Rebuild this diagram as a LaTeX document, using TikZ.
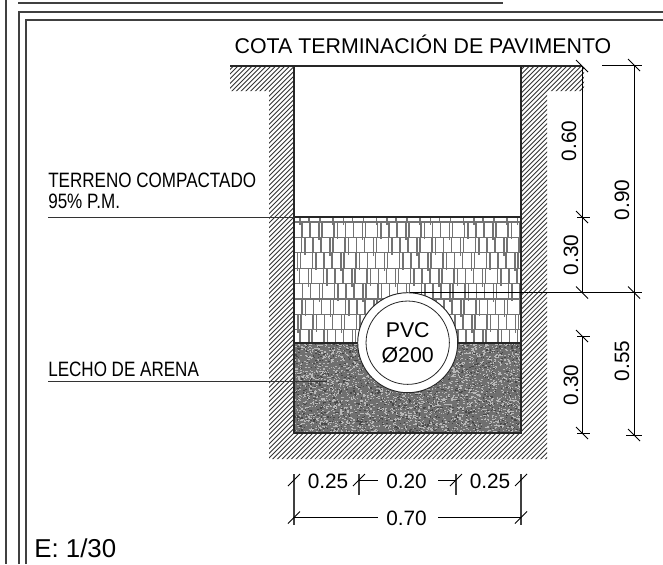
\documentclass[tikz,border=0pt]{standalone}
\usepackage{fontspec}
\setmainfont{Liberation Sans}
\usetikzlibrary{positioning,calc}
\tikzset{
  frameline/.style={line width=0.8pt,black!75},
  hatchline/.style={line width=0.65pt,black!80},
  paverline/.style={line width=0.85pt,black!55},
  wallline/.style={line width=0.9pt,black!85},
  dimline/.style={line width=0.6pt,black},
  bigtext/.style={inner sep=0pt,font=\fontsize{16}{18}\selectfont},
  dimtext/.style={inner sep=0pt,font=\fontsize{15.6}{18}\selectfont},
  notetext/.style={inner sep=0pt,anchor=base west,font=\fontsize{15.6}{18}\selectfont},
}
\newcommand{\backtick}[1]{\draw[dimline] ([shift={(-6,-6)}]#1) -- ([shift={(6,6)}]#1);}
\newcommand{\slashtick}[1]{\draw[dimline] ([shift={(-6,6)}]#1) -- ([shift={(6,-6)}]#1);}
\begin{document}
\begin{tikzpicture}[x=0.75pt,y=-0.75pt]
  \useasboundingbox (0,0) rectangle (663,564);
  % sheet frame
  \draw[frameline] (6,0) -- (6,564);
  \draw[frameline] (19,564) -- (19,12) -- (663,12);
  \draw[frameline] (26,564) -- (26,20) -- (663,20);
  \draw[frameline] (18,3) -- (503,3);
  % ground hatch
  \begin{scope}
    \clip (230,66) -- (294,66) -- (294,433) -- (521,433) -- (521,66) -- (584,66)
      -- (584,91) -- (547,91) -- (547,459) -- (269,459) -- (269,91) -- (230,91) -- cycle;
    \foreach \k in {290,294.7,...,1050}{
      \draw[hatchline] (\k,0) -- (0,\k);
    }
  \end{scope}
  % compacted fill
  \begin{scope}
    \clip (294,217) rectangle (521,343);
    \foreach \r in {0,...,7}{
      \draw[paverline] (294,222+15.4*\r) -- (521,222+15.4*\r);
      \foreach \p in {-3,...,6}{
        \foreach \o/\e in {0/2,8/0,16/0,25/3,28/0,40/0}{
          \draw[paverline] (294+\p*43.5+\o+11*\r,222+15.4*\r) -- ++(0,15.4+\e);
        }
      }
    }
    \foreach \p in {0,...,5}{
      \foreach \o/\e in {0/3,9/0,20/0,33/3}{
        \draw[paverline] (300+\p*43.5+\o,217) -- ++(0,5+\e);
      }
    }
  \end{scope}
  % sand bed
  \fill[black!56] (294,343) rectangle (521,433);
  \pgfmathsetseed{4242}
  \foreach \i in {1,...,3000}{
    \pgfmathsetmacro{\sx}{294+226*rnd}
    \pgfmathsetmacro{\sy}{343+89*rnd}
    \fill[black!28] (\sx,\sy) rectangle ++(1.5,1.1);
  }
  \foreach \i in {1,...,1200}{
    \pgfmathsetmacro{\sx}{294+226*rnd}
    \pgfmathsetmacro{\sy}{343+89*rnd}
    \fill[black!72] (\sx,\sy) rectangle ++(1.4,1.1);
  }
  % trench outline
  \draw[wallline] (230,66) -- (582,66);
  \draw[wallline] (294,66) -- (294,433) -- (521,433) -- (521,66);
  \draw[wallline] (294,217) -- (521,217);
  \draw[wallline] (294,343) -- (521,343);
  % pipe
  \node[circle,draw=black!85,fill=white,line width=0.7pt,minimum size=75pt,inner sep=0pt] (pipeout) at (407.7,342.7) {};
  \node[circle,draw=black!85,fill=white,line width=0.6pt,minimum size=62.5pt,inner sep=0pt] (pipein) at (pipeout) {};
  \node[bigtext] (pvc) at (407.7,330) {PVC};
  \node[bigtext] (diam) at (407.7,355.5) {Ø200};
  % labels
  \node[bigtext] (cota) at (423,44.5) {COTA TERMINACIÓN DE PAVIMENTO};
  \node[notetext] (terreno) at (48,187) {\scalebox{.82}[1]{TERRENO COMPACTADO}};
  \node[notetext] (proctor) at (48,208.5) {\scalebox{.82}[1]{95\% P.M.}};
  \node[notetext] (lecho) at (48,376) {\scalebox{.82}[1]{LECHO DE ARENA}};
  \node[inner sep=0pt,anchor=base west,font=\fontsize{19.4}{22}\selectfont] (escala) at (34,557) {E: 1/30};
  % leaders
  \coordinate (l1a) at (48,217);
  \coordinate (l1b) at (294,217);
  \coordinate (l2a) at (48,381);
  \coordinate (l2b) at (327,381);
  \coordinate (l3a) at (410,292.5);
  \coordinate (l3b) at (642,292.5);
  \draw[dimline,black!80] (l1a) -- (l1b);
  \draw[dimline,black!80] (l2a) -- (l2b);
  \draw[dimline] (l3a) -- (l3b);
  % vertical dimensions
  \coordinate (v1) at (582,66);
  \coordinate (v2) at (582,217);
  \coordinate (v3) at (582,292.5);
  \coordinate (v4) at (582,336);
  \coordinate (v5) at (582,433);
  \coordinate (w1) at (634,65);
  \coordinate (w2) at (634,292.5);
  \coordinate (w3) at (634,435);
  \draw[dimline] (v1) -- (v2) -- (v3);
  \draw[dimline] (v4) -- (v5);
  \draw[dimline] (w1) -- (w2) -- (w3);
  \draw[dimline] (602,65) -- (642,65);
  \draw[dimline] (577,217) -- (590,217);
  \draw[dimline] (577,336) -- (590,336);
  \draw[dimline] (577,433) -- (590,433);
  \draw[dimline] (626,435) -- (642,435);
  \foreach \c in {v1,v2,v3,v4,v5,w1,w2,w3}{
    \backtick{\c}
  }
  \node[dimtext,rotate=90] (d060) at (569,141) {0.60};
  \node[dimtext,rotate=90] (d090) at (622,200) {0.90};
  \node[dimtext,rotate=90] (d030a) at (571,255) {0.30};
  \node[dimtext,rotate=90] (d030b) at (571,385) {0.30};
  \node[dimtext,rotate=90] (d055) at (622,361) {0.55};
  % horizontal dimensions
  \coordinate (h1) at (294,480);
  \coordinate (h2) at (359,480);
  \coordinate (h3) at (456,480);
  \coordinate (h4) at (521,480);
  \coordinate (k1) at (294,517.5);
  \coordinate (k2) at (521,517.5);
  \draw[frameline] (294,474) -- (294,525);
  \draw[frameline] (521,474) -- (521,525);
  \draw[frameline] (359,474) -- (359,495);
  \draw[frameline] (456,474) -- (456,495);
  \node[dimtext] (d025a) at (328,481) {0.25};
  \node[dimtext] (d020) at (406.5,481) {0.20};
  \node[dimtext] (d025b) at (490,481) {0.25};
  \node[dimtext] (d070) at (406.5,518) {0.70};
  \draw[dimline] (h2) -- (378,480);
  \draw[dimline] (438,480) -- (h3);
  \draw[dimline] (k1) -- (378,517.5);
  \draw[dimline] (438,517.5) -- (k2);
  \foreach \c in {h1,h2,h3,h4,k1,k2}{
    \slashtick{\c}
  }
\end{tikzpicture}
\end{document}
